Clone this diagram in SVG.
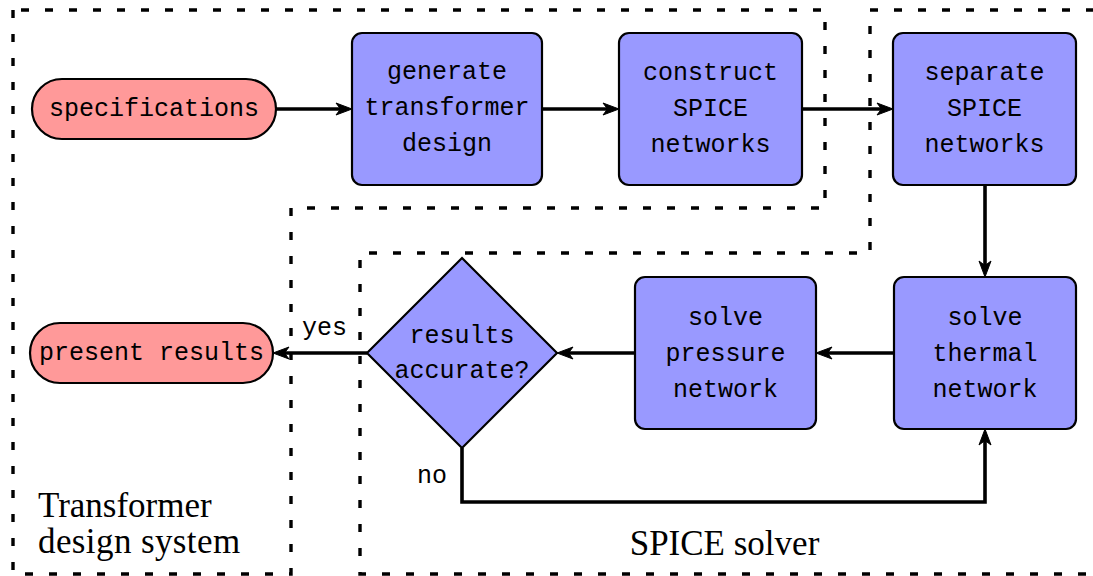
<svg xmlns="http://www.w3.org/2000/svg" width="1093" height="576" viewBox="0 0 1093 576">
  <style>
    .proc { fill: #9999FF; stroke: #000; stroke-width: 2.2; }
    .term { fill: #FF9999; stroke: #000; stroke-width: 2.2; }
    .mono { font-family: "Liberation Mono", "DejaVu Sans Mono", monospace; font-size: 25px; fill: #000; }
    .mid { text-anchor: middle; }
    .serif { font-family: "Liberation Serif", "DejaVu Serif", serif; font-size: 35px; fill: #000; }
    .flow { fill: none; stroke: #000; stroke-width: 3.6; marker-end: url(#head); }
    .zone { fill: none; stroke: #000; stroke-width: 3.4; stroke-dasharray: 8 16; }
  </style>
  <defs>
    <!-- stealth-style arrowhead; tip sits 8px past the end of the line -->
    <marker id="head" viewBox="-18 -7 19 14" refX="-8" refY="0" markerWidth="19" markerHeight="14" markerUnits="userSpaceOnUse" orient="auto" overflow="visible">
      <path d="M0,0 L-16,-6 L-11.5,0 L-16,6 Z" fill="#000" stroke="#000" stroke-width="1" stroke-linejoin="miter"/>
    </marker>
  </defs>

  <!-- subsystem boundaries -->
  <g id="zones">
    <path class="zone" stroke-dashoffset="16" d="M13,10 H825 V208 H291 V574 H13 Z"/>
    <path class="zone" stroke-dashoffset="18" d="M1100,10 H870 V253 H360 V574 H1100"/>
  </g>

  <!-- connectors -->
  <g id="connectors">
    <path class="flow" d="M276,109 H344"/>
    <path class="flow" d="M542,109 H611"/>
    <path class="flow" d="M802,109 H885"/>
    <path class="flow" d="M985,185 V269"/>
    <path class="flow" d="M894,353 H824"/>
    <path class="flow" d="M635,353 H565"/>
    <path class="flow" d="M367,353 H281"/>
    <path class="flow" d="M462,448 V502 H985 V437"/>
  </g>

  <g id="specifications">
    <rect class="term" x="32" y="79" width="244" height="60" rx="30" ry="30"/>
    <text class="mono mid" x="154" y="116">specifications</text>
  </g>

  <g id="generate-design">
    <rect class="proc" x="352" y="33" width="190" height="152" rx="10" ry="10"/>
    <text class="mono mid" x="447" y="79">generate</text>
    <text class="mono mid" x="447" y="115">transformer</text>
    <text class="mono mid" x="447" y="151">design</text>
  </g>

  <g id="construct-networks">
    <rect class="proc" x="619" y="33" width="183" height="152" rx="10" ry="10"/>
    <text class="mono mid" x="710.5" y="80">construct</text>
    <text class="mono mid" x="710.5" y="116">SPICE</text>
    <text class="mono mid" x="710.5" y="152">networks</text>
  </g>

  <g id="separate-networks">
    <rect class="proc" x="893" y="33" width="183" height="152" rx="10" ry="10"/>
    <text class="mono mid" x="984.5" y="80">separate</text>
    <text class="mono mid" x="984.5" y="116">SPICE</text>
    <text class="mono mid" x="984.5" y="152">networks</text>
  </g>

  <g id="solve-thermal">
    <rect class="proc" x="894" y="277" width="182" height="152" rx="10" ry="10"/>
    <text class="mono mid" x="985" y="325">solve</text>
    <text class="mono mid" x="985" y="361">thermal</text>
    <text class="mono mid" x="985" y="397">network</text>
  </g>

  <g id="solve-pressure">
    <rect class="proc" x="635" y="277" width="181" height="152" rx="10" ry="10"/>
    <text class="mono mid" x="725.5" y="325">solve</text>
    <text class="mono mid" x="725.5" y="361">pressure</text>
    <text class="mono mid" x="725.5" y="397">network</text>
  </g>

  <g id="results-accurate">
    <path class="proc" d="M462,258 L557,353 L462,448 L367,353 Z"/>
    <text class="mono mid" x="462" y="343">results</text>
    <text class="mono mid" x="462" y="378">accurate?</text>
  </g>

  <g id="present-results">
    <rect class="term" x="30" y="323" width="243" height="60" rx="30" ry="30"/>
    <text class="mono mid" x="151.5" y="360">present results</text>
  </g>

  <!-- branch labels -->
  <g id="branch-labels">
    <text class="mono" x="302" y="335">yes</text>
    <text class="mono" x="417" y="483">no</text>
  </g>

  <!-- subsystem captions -->
  <g id="captions">
    <text class="serif" x="38" y="517">Transformer</text>
    <text class="serif" x="38" y="553" letter-spacing="0.4">design system</text>
    <text class="serif mid" x="724.5" y="555">SPICE solver</text>
  </g>
</svg>
